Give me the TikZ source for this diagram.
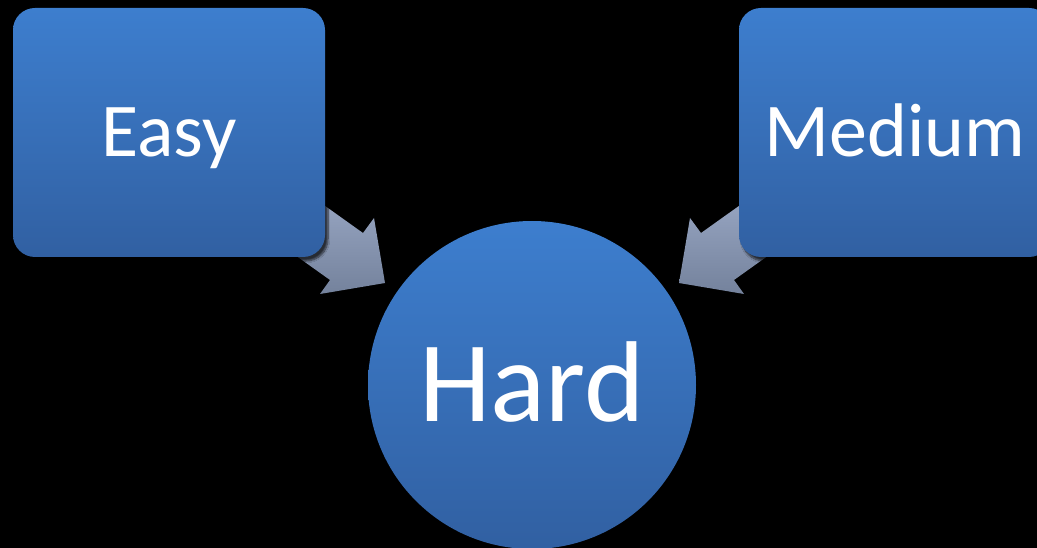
\documentclass[tikz,border=0pt]{standalone}
\usepackage{fontspec}
\setmainfont{Carlito}
\usetikzlibrary{shadows.blur}
\definecolor{boxtop}{RGB}{61,126,206}
\definecolor{boxbot}{RGB}{49,96,162}
\definecolor{arrtop}{RGB}{170,184,214}
\definecolor{arrbot}{RGB}{116,130,156}
\tikzset{
  box/.style={rounded corners=22pt, top color=boxtop, bottom color=boxbot,
    minimum width=312pt, minimum height=249pt, text=white, inner sep=0pt,
    font=\fontsize{76}{90}\selectfont, text height=48pt, text depth=0pt,
    blur shadow={shadow xshift=3pt, shadow yshift=-4pt, shadow blur steps=8, shadow opacity=70}},
  ball/.style={circle, top color=boxtop, bottom color=boxbot, minimum size=328pt,
    inner sep=0pt, text=white, font=\fontsize{115}{130}\selectfont,
    text height=73pt, text depth=0pt},
  blockarrow/.style={top color=arrtop, bottom color=arrbot}
}
\begin{document}
\begin{tikzpicture}[x=1pt,y=-1pt]
\fill[black] (0,0) rectangle (1037,548);
\useasboundingbox (0,0) rectangle (1037,548);
% block arrows
\coordinate (ltip) at (385,283);
\coordinate (rtip) at (679,283);
\fill[blockarrow] (ltip) -- (374,218) -- (363,233) -- (241,146) -- (208,193) -- (330,280) -- (320,294) -- cycle;
\fill[blockarrow] (rtip) -- (690,218) -- (701,233) -- (823,146) -- (856,193) -- (734,280) -- (744,294) -- cycle;
% boxes
\node[box] (easy) at (169,132.5) {Easy};
\node[box] (medium) at (895,132.5) {Medium};
\node[ball] (hard) at (532,385) {Hard};
\end{tikzpicture}
\end{document}
